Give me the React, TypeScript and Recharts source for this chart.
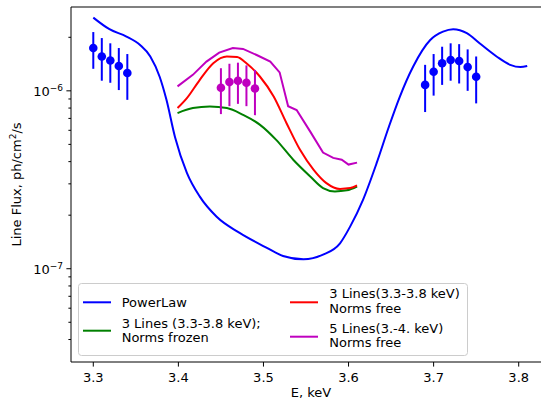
import React from 'react';
import { ComposedChart, Line, Scatter, ErrorBar, XAxis, YAxis, ReferenceLine } from 'recharts';

const FONT = "'DejaVu Sans', sans-serif";

// PowerLaw model curve
const powerLawE = [3.300, 3.319, 3.339, 3.355, 3.367, 3.378, 3.386, 3.396, 3.410, 3.425, 3.445, 3.472, 3.504, 3.523, 3.547, 3.570, 3.590, 3.602, 3.617, 3.633, 3.647, 3.660, 3.676, 3.696, 3.711, 3.723, 3.739, 3.754, 3.774, 3.790, 3.802, 3.810];
const powerLawV = [2.58e-6, 2.22e-6, 2.02e-6, 1.81e-6, 1.56e-6, 1.20e-6, 0.89e-6, 0.55e-6, 0.346e-6, 0.255e-6, 0.196e-6, 0.159e-6, 0.131e-6, 0.118e-6, 0.113e-6, 0.120e-6, 0.139e-6, 0.173e-6, 0.244e-6, 0.392e-6, 0.62e-6, 0.92e-6, 1.37e-6, 1.93e-6, 2.15e-6, 2.22e-6, 2.11e-6, 1.85e-6, 1.56e-6, 1.40e-6, 1.36e-6, 1.38e-6];

// 3 lines, norms frozen
const frozenE = [3.399, 3.417, 3.437, 3.457, 3.476, 3.496, 3.515, 3.535, 3.555, 3.570, 3.584, 3.598, 3.610];
const frozenV = [0.75e-6, 0.80e-6, 0.816e-6, 0.80e-6, 0.733e-6, 0.644e-6, 0.53e-6, 0.41e-6, 0.33e-6, 0.284e-6, 0.272e-6, 0.276e-6, 0.29e-6];

// 3 lines, norms free
const free3E = [3.399, 3.410, 3.425, 3.441, 3.457, 3.469, 3.480, 3.496, 3.512, 3.527, 3.543, 3.559, 3.574, 3.590, 3.602, 3.610];
const free3V = [0.80e-6, 0.91e-6, 1.15e-6, 1.43e-6, 1.56e-6, 1.55e-6, 1.43e-6, 1.20e-6, 0.93e-6, 0.66e-6, 0.466e-6, 0.36e-6, 0.303e-6, 0.281e-6, 0.284e-6, 0.294e-6];

// 5 lines, norms free
const free5E = [3.399, 3.417, 3.433, 3.448, 3.464, 3.476, 3.492, 3.508, 3.519, 3.529, 3.539, 3.555, 3.570, 3.582, 3.592, 3.600, 3.610];
const free5V = [1.06e-6, 1.23e-6, 1.46e-6, 1.64e-6, 1.74e-6, 1.72e-6, 1.59e-6, 1.46e-6, 1.27e-6, 0.82e-6, 0.78e-6, 0.59e-6, 0.45e-6, 0.42e-6, 0.41e-6, 0.385e-6, 0.395e-6];

// Blue measured points
const blueE = [3.30, 3.31, 3.32, 3.33, 3.34, 3.69, 3.70, 3.71, 3.72, 3.73, 3.74, 3.75];
const blueV = [1.74e-6, 1.56e-6, 1.48e-6, 1.38e-6, 1.26e-6, 1.08e-6, 1.28e-6, 1.43e-6, 1.49e-6, 1.47e-6, 1.36e-6, 1.20e-6];
const blueLo = [1.33e-6, 1.14e-6, 1.11e-6, 1.01e-6, 0.89e-6, 0.76e-6, 0.94e-6, 1.08e-6, 1.14e-6, 1.10e-6, 1.00e-6, 0.85e-6];
const blueHi = [2.14e-6, 1.98e-6, 1.85e-6, 1.74e-6, 1.61e-6, 1.40e-6, 1.61e-6, 1.77e-6, 1.85e-6, 1.83e-6, 1.71e-6, 1.56e-6];

// Magenta measured points
const magE = [3.45, 3.46, 3.47, 3.48, 3.49];
const magV = [1.04e-6, 1.12e-6, 1.14e-6, 1.11e-6, 1.03e-6];
const magLo = [0.74e-6, 0.82e-6, 0.845e-6, 0.82e-6, 0.73e-6];
const magHi = [1.34e-6, 1.42e-6, 1.44e-6, 1.39e-6, 1.31e-6];

const xTicks = [3.3, 3.4, 3.5, 3.6, 3.7, 3.8];
const yTicks = [4e-8, 5e-8, 6e-8, 7e-8, 8e-8, 9e-8, 1e-7, 2e-7, 3e-7, 4e-7, 5e-7, 6e-7, 7e-7, 8e-7, 9e-7, 1e-6, 2e-6];
const xDomain = [3.2738, 3.8262];
const yDomain = [2.99e-8, 2.96e-6];

const BLUE = '#0000ff';
const GREEN = '#008000';
const RED = '#ff0000';
const MAGENTA = '#bf00bf';

const legendItems = [
  { lines: ['PowerLaw'], color: BLUE },
  { lines: ['3 Lines (3.3-3.8 keV);', 'Norms frozen'], color: GREEN },
  { lines: ['3 Lines(3.3-3.8 keV)', 'Norms free'], color: RED },
  { lines: ['5 Lines(3.-4. keV)', 'Norms free'], color: MAGENTA },
];

const mkLine = (E: number[], V: number[]) => E.map((e, i) => ({ E: e, v: V[i] }));
const mkPts = (E: number[], V: number[], lo: number[], hi: number[]) =>
  E.map((e, i) => ({ E: e, v: V[i], err: [V[i] - lo[i], hi[i] - V[i]] }));

const powerLawData = mkLine(powerLawE, powerLawV);
const frozenData = mkLine(frozenE, frozenV);
const free3Data = mkLine(free3E, free3V);
const free5Data = mkLine(free5E, free5V);
const bluePts = mkPts(blueE, blueV, blueLo, blueHi);
const magPts = mkPts(magE, magV, magLo, magHi);

const YTick = (props: any) => {
  const { x, y, payload } = props;
  const v = payload.value;
  const exp = Math.round(Math.log10(v));
  const major = Math.abs(v / Math.pow(10, exp) - 1) < 1e-6;
  return (
    <g>
      <line x1={x - (major ? 4.6 : 2.6)} x2={x} y1={y} y2={y} stroke="#000" strokeWidth={1} />
      {major && (
        <text x={x - 8} y={y + 5} textAnchor="end" fontSize={13} fontFamily={FONT} fill="#000">
          10<tspan dy={-5} fontSize={9}>{'\u2212' + String(-exp)}</tspan>
        </text>
      )}
    </g>
  );
};

const YLabel = () => (
  <text x={20.5} y={184.5} transform="rotate(-90 20.5 184.5)" textAnchor="middle" fontSize={13} fontFamily={FONT} fill="#000">
    Line Flux, ph/cm<tspan dy={-5} fontSize={9}>2</tspan><tspan dy={5}>/s</tspan>
  </text>
);

const legendPos = [
  { hx: 5, hy: 19.3, tx: 43.7, ty: [19.3] },
  { hx: 5, hy: 47.7, tx: 43.7, ty: [40.5, 54.3] },
  { hx: 212, hy: 19.3, tx: 251.3, ty: [10.7, 25.3] },
  { hx: 212, hy: 53.7, tx: 251.3, ty: [45.3, 59.7] },
];

const LegendBox = () => (
  <svg width={391} height={74} style={{ display: 'block', position: 'absolute', left: 78, top: 283 }}>
    <rect x={0.5} y={0.5} width={389} height={72} rx={3} fill="rgba(255,255,255,0.8)" stroke="#cccccc" strokeWidth={1} />
    {legendItems.map((it, i) => {
      const p = legendPos[i];
      return (
        <g key={i}>
          <line x1={p.hx} x2={p.hx + 28} y1={p.hy} y2={p.hy} stroke={it.color} strokeWidth={2} />
          {it.lines.map((t, j) => (
            <text key={j} x={p.tx} y={p.ty[j]} dominantBaseline="central" fontSize={13} fontFamily={FONT} fill="#000">{t}</text>
          ))}
        </g>
      );
    })}
  </svg>
);

const Dot = (color: string) => (props: any) => (
  <circle cx={props.cx} cy={props.cy} r={4.3} fill={color} stroke="none" />
);

export default function App() {
  return (
    <div style={{ position: 'absolute', left: 0, top: 0, width: 541, height: 403, overflow: 'hidden', background: '#fff' }}>
      <ComposedChart width={541} height={403} margin={{ top: 7, right: 0, bottom: 40, left: 70 }}>
        <XAxis
          type="number"
          dataKey="E"
          domain={xDomain}
          allowDataOverflow
          ticks={xTicks}
          interval={0}
          height={1}
          tickSize={4.6}
          tickMargin={6}
          tickFormatter={(v: number) => v.toFixed(1)}
          tick={{ fill: '#000', fontSize: 13, fontFamily: FONT }}
          tickLine={{ stroke: '#000', strokeWidth: 1 }}
          axisLine={{ stroke: '#000', strokeWidth: 1 }}
          label={{ value: 'E, keV', position: 'bottom', offset: 25, fill: '#000', fontSize: 13, fontFamily: FONT, dx: 5 }}
        />
        <YAxis
          type="number"
          dataKey="v"
          scale="log"
          domain={yDomain}
          allowDataOverflow
          ticks={yTicks}
          interval={0}
          width={1}
          tickSize={0}
          tickMargin={0}
          tickLine={false}
          tick={<YTick />}
          axisLine={{ stroke: '#000', strokeWidth: 1 }}
          label={{ content: () => <YLabel /> }}
        />
        <ReferenceLine y={yDomain[1]} stroke="#808080" strokeWidth={2} ifOverflow="extendDomain" />
        <Line data={powerLawData} dataKey="v" type="monotone" stroke={BLUE} strokeWidth={2} dot={false} isAnimationActive={false} />
        <Line data={frozenData} dataKey="v" type="monotone" stroke={GREEN} strokeWidth={2} dot={false} isAnimationActive={false} />
        <Line data={free3Data} dataKey="v" type="monotone" stroke={RED} strokeWidth={2} dot={false} isAnimationActive={false} />
        <Line data={free5Data} dataKey="v" type="linear" stroke={MAGENTA} strokeWidth={2} dot={false} isAnimationActive={false} />
        <Scatter data={bluePts} dataKey="v" fill={BLUE} shape={Dot(BLUE)} isAnimationActive={false}>
          <ErrorBar dataKey="err" direction="y" width={0} stroke={BLUE} strokeWidth={2} isAnimationActive={false} />
        </Scatter>
        <Scatter data={magPts} dataKey="v" fill={MAGENTA} shape={Dot(MAGENTA)} isAnimationActive={false}>
          <ErrorBar dataKey="err" direction="y" width={0} stroke={MAGENTA} strokeWidth={2} isAnimationActive={false} />
        </Scatter>
      </ComposedChart>
      <LegendBox />
    </div>
  );
}
